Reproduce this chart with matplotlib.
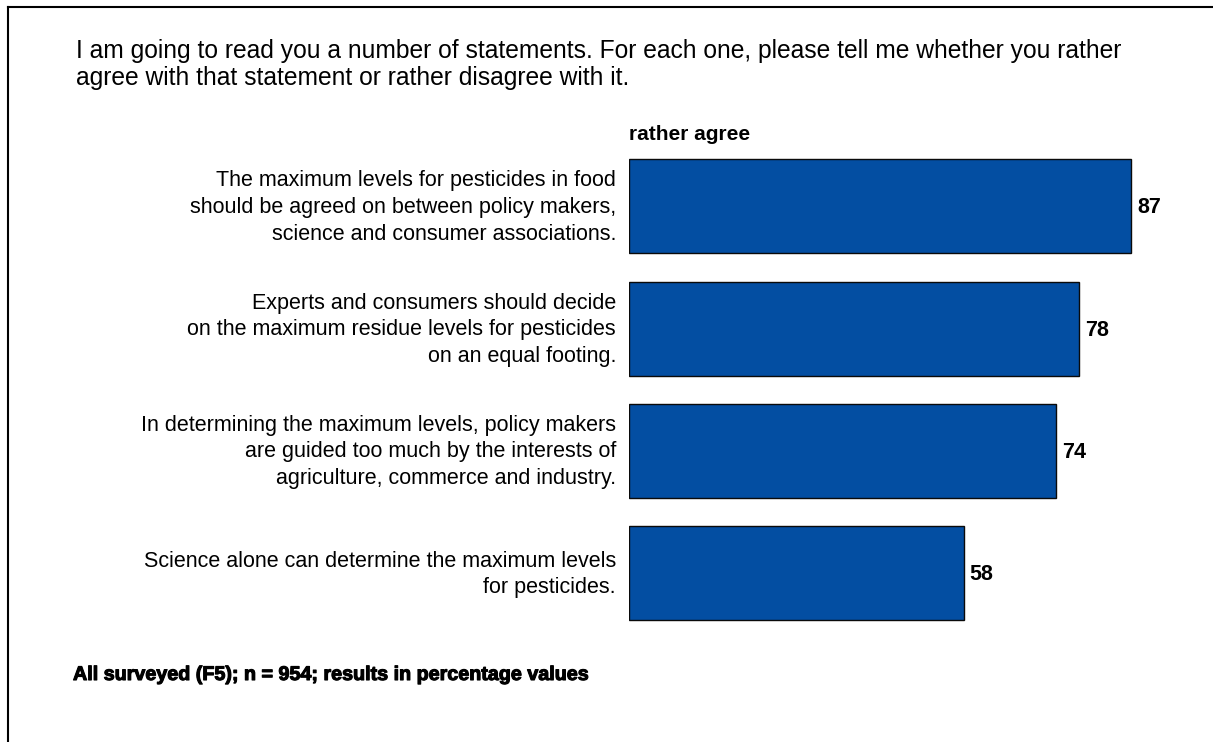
import numpy as np
import matplotlib.pyplot as plt
import matplotlib.patheffects as pe
from matplotlib.lines import Line2D

plt.rcParams['font.family'] = ['Liberation Sans', 'DejaVu Sans']

statements = [
    ["The maximum levels for pesticides in food",
     "should be agreed on between policy makers,",
     "science and consumer associations."],
    ["Experts and consumers should decide",
     "on the maximum residue levels for pesticides",
     "on an equal footing."],
    ["In determining the maximum levels, policy makers",
     "are guided too much by the interests of",
     "agriculture, commerce and industry."],
    ["Science alone can determine the maximum levels",
     "for pesticides."],
]
agree = [87, 78, 74, 58]

title_lines = [
    "I am going to read you a number of statements. For each one, please tell me whether you rather",
    "agree with that statement or rather disagree with it.",
]
footer = "All surveyed (F5); n = 954; results in percentage values"

W, H = 1213, 742
fig = plt.figure(figsize=(W / 100, H / 100), dpi=100)
PT = 0.72  # points per pixel at dpi 100

# bars live in an axes whose x=0 sits at pixel 629, 5.77 px per percent
x0 = 629
scale = 5.77
top, bot = 140, 640
ax = fig.add_axes([x0 / W, (H - bot) / H, (100 * scale) / W, (bot - top) / H])
ax.set_xlim(0, 100)
ax.set_ylim(bot, top)
ax.axis('off')

centres = [206, 328.5, 450.5, 573]
ax.barh(centres, agree, height=94, color='#034EA2', edgecolor='#0a0a0a', linewidth=1.0)

line_gap = 26.7
for y, v, lines in zip(centres, agree, statements):
    ax.annotate(str(v), xy=(v, y), xytext=(6 * PT, -7 * PT), textcoords='offset points',
                ha='left', va='baseline', fontsize=15.5, fontweight='bold')
    n = len(lines)
    for i, s in enumerate(lines):
        dy = (i - (n - 1) / 2) * line_gap + 7
        ax.annotate(s, xy=(0, y), xytext=(-13 * PT, -dy * PT), textcoords='offset points',
                    ha='right', va='baseline', fontsize=15.5)

fig.text(629 / W, 1 - 140 / H, "rather agree", ha='left', va='baseline',
         fontsize=15, fontweight='bold')

for i, s in enumerate(title_lines):
    fig.text(76 / W, 1 - (58 + 27 * i) / H, s, ha='left', va='baseline', fontsize=17.7)

fig.text(73 / W, 1 - 680 / H, footer, ha='left', va='baseline', fontsize=14.2,
         fontweight='heavy',
         path_effects=[pe.withStroke(linewidth=0.8, foreground='black')])

# frame on top and left
fig.add_artist(Line2D([8 / W, 8 / W], [0, 1 - 7 / H], color='black', lw=1.5))
fig.add_artist(Line2D([8 / W, 1], [1 - 7 / H, 1 - 7 / H], color='black', lw=1.5))

fig.savefig('out.png', dpi=100)
